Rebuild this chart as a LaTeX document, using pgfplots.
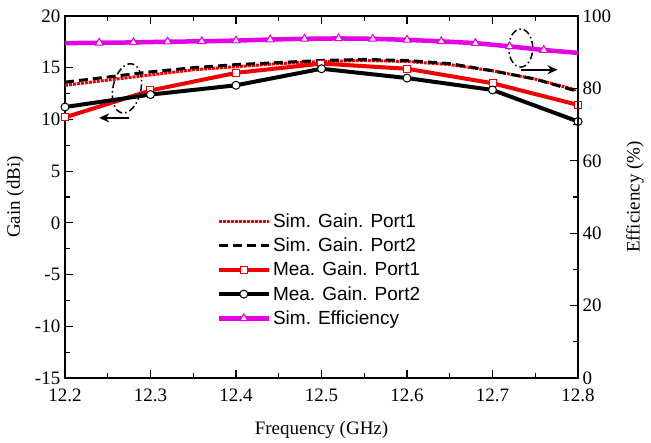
\documentclass[border=0pt]{standalone}
\usepackage{fontspec}
\setmainfont{Liberation Serif}
\newfontfamily\arialfont{Liberation Sans}
\usepackage{pgfplots}
\pgfplotsset{compat=1.18}
\usetikzlibrary{arrows.meta}
\definecolor{effmag}{RGB}{230,0,230}
\definecolor{mred}{RGB}{240,0,0}
\begin{document}
\begin{tikzpicture}
\pgfplotsset{
  every axis/.append style={
    scale only axis, width=513pt, height=362pt,
    xmin=12.2, xmax=12.8,
    tick align=inside,
    major tick length=8pt, minor tick length=5pt,
    every tick/.style={black, line width=1.2pt},
    axis line style={line width=1.2pt},
    tick label style={font=\fontsize{19}{22}\selectfont},
    label style={font=\fontsize{19}{22}\selectfont},
    yticklabel style={inner sep=1.5pt, xshift=-3pt},
  }
}
\begin{axis}[
  ymin=-15, ymax=20,
  xtick={12.2,12.3,12.4,12.5,12.6,12.7,12.8},
  xticklabels={12.2,12.3,12.4,12.5,12.6,12.7,12.8},
  minor x tick num=1,
  ytick={-15,-10,-5,0,5,10,15,20},
  yticklabels={-15,-10,-5,0,5,10,15,20},
  minor y tick num=1,
  ytick pos=left, xtick pos=both,
  xticklabel style={inner sep=1pt, yshift=-10pt},
  xlabel={Frequency (GHz)}, ylabel={Gain (dBi)},
  xlabel style={at={(axis description cs:0.5,-0.143)}, anchor=center},
  ylabel style={at={(axis description cs:-0.097,0.5)}, anchor=center, rotate=0},
  legend style={at={(0.295,0.46)}, anchor=north west, draw=none, fill=none,
    font=\arialfont\fontsize{19}{22}\selectfont, row sep=5pt,
    cells={anchor=west}, inner sep=0pt},
  legend image code/.code={\draw[#1] (0pt,0pt) -- (50pt,0pt); \draw[#1,only marks] plot coordinates {(25pt,0pt)};},
]
\addplot[mred, densely dotted, line width=3pt] coordinates {
(12.2,13.3) (12.25,13.8) (12.3,14.3) (12.35,14.8) (12.4,15.1) (12.45,15.4) (12.5,15.6) (12.55,15.7) (12.6,15.6) (12.65,15.3) (12.7,14.7) (12.75,13.9) (12.8,12.8)};
\addlegendentry{Sim. Gain. Port1}
\addplot[black, dashed, dash pattern=on 9pt off 5pt, line width=3pt] coordinates {
(12.2,13.6) (12.25,14.1) (12.3,14.6) (12.35,15.0) (12.4,15.3) (12.45,15.5) (12.5,15.7) (12.55,15.8) (12.6,15.7) (12.65,15.4) (12.7,14.7) (12.75,13.9) (12.8,12.7)};
\addlegendentry{Sim. Gain. Port2}
\addplot[mred, line width=4pt, mark=square*, mark size=3.5pt, mark options={fill=white, draw=mred, line width=1pt, solid}] coordinates {
(12.2,10.2) (12.3,12.8) (12.4,14.5) (12.5,15.4) (12.6,14.9) (12.7,13.5) (12.8,11.4)};
\addlegendentry{Mea. Gain. Port1}
\addplot[black, line width=4pt, mark=*, mark size=4pt, mark options={fill=white, draw=black, line width=1pt, solid}] coordinates {
(12.2,11.2) (12.3,12.4) (12.4,13.3) (12.5,14.9) (12.6,14.0) (12.7,12.85) (12.8,9.8)};
\addlegendentry{Mea. Gain. Port2}
\addlegendimage{effmag, line width=4.5pt, mark=triangle*, mark size=4.5pt, mark options={fill=white, draw=effmag, line width=1pt}}
\addlegendentry{Sim. Efficiency}
% annotations
\draw[black, line width=1.5pt, dash pattern=on 7pt off 3pt on 1.5pt off 3pt, rotate around={-12:(axis cs:12.2725,13.0)}] (axis cs:12.2725,13.0) ellipse [x radius=14pt, y radius=25pt];
\draw[black, line width=1.5pt, -{Stealth[length=10pt,width=9pt]}] (axis cs:12.275,10.15) -- (axis cs:12.24,10.15);
\draw[black, line width=1.5pt, dash pattern=on 7pt off 3pt on 1.5pt off 3pt] (axis cs:12.733,16.9) ellipse [x radius=12pt, y radius=19pt];
\draw[black, line width=1.5pt, -{Stealth[length=10pt,width=9pt]}] (axis cs:12.733,14.8) -- (axis cs:12.776,14.8);
\end{axis}
\begin{axis}[
  ymin=0, ymax=100,
  axis x line=none,
  axis y line*=right,
  ytick={0,20,40,60,80,100},
  yticklabels={0,20,40,60,80,100},
  yticklabel style={inner sep=1.5pt, xshift=6pt},
  minor y tick num=1,
  ylabel={Efficiency (\%)},
  ylabel style={at={(axis description cs:1.111,0.5)}, anchor=center, rotate=0},
]
\addplot[effmag, line width=4.5pt, mark=triangle*, mark size=4.5pt, mark indices={2,...,15}, mark options={fill=white, draw=effmag, line width=1pt}] coordinates {
(12.20,92.5) (12.24,92.6) (12.28,92.7) (12.32,92.9) (12.36,93.0) (12.40,93.2) (12.44,93.5) (12.48,93.7) (12.52,93.8) (12.56,93.7) (12.60,93.4) (12.64,93.0) (12.68,92.5) (12.72,91.6) (12.76,90.6) (12.80,89.8)};
\end{axis}
\pgfresetboundingbox
\useasboundingbox (current axis.south west) ++(-65pt,-65pt) rectangle ++(651pt,443pt);
\end{tikzpicture}
\end{document}
